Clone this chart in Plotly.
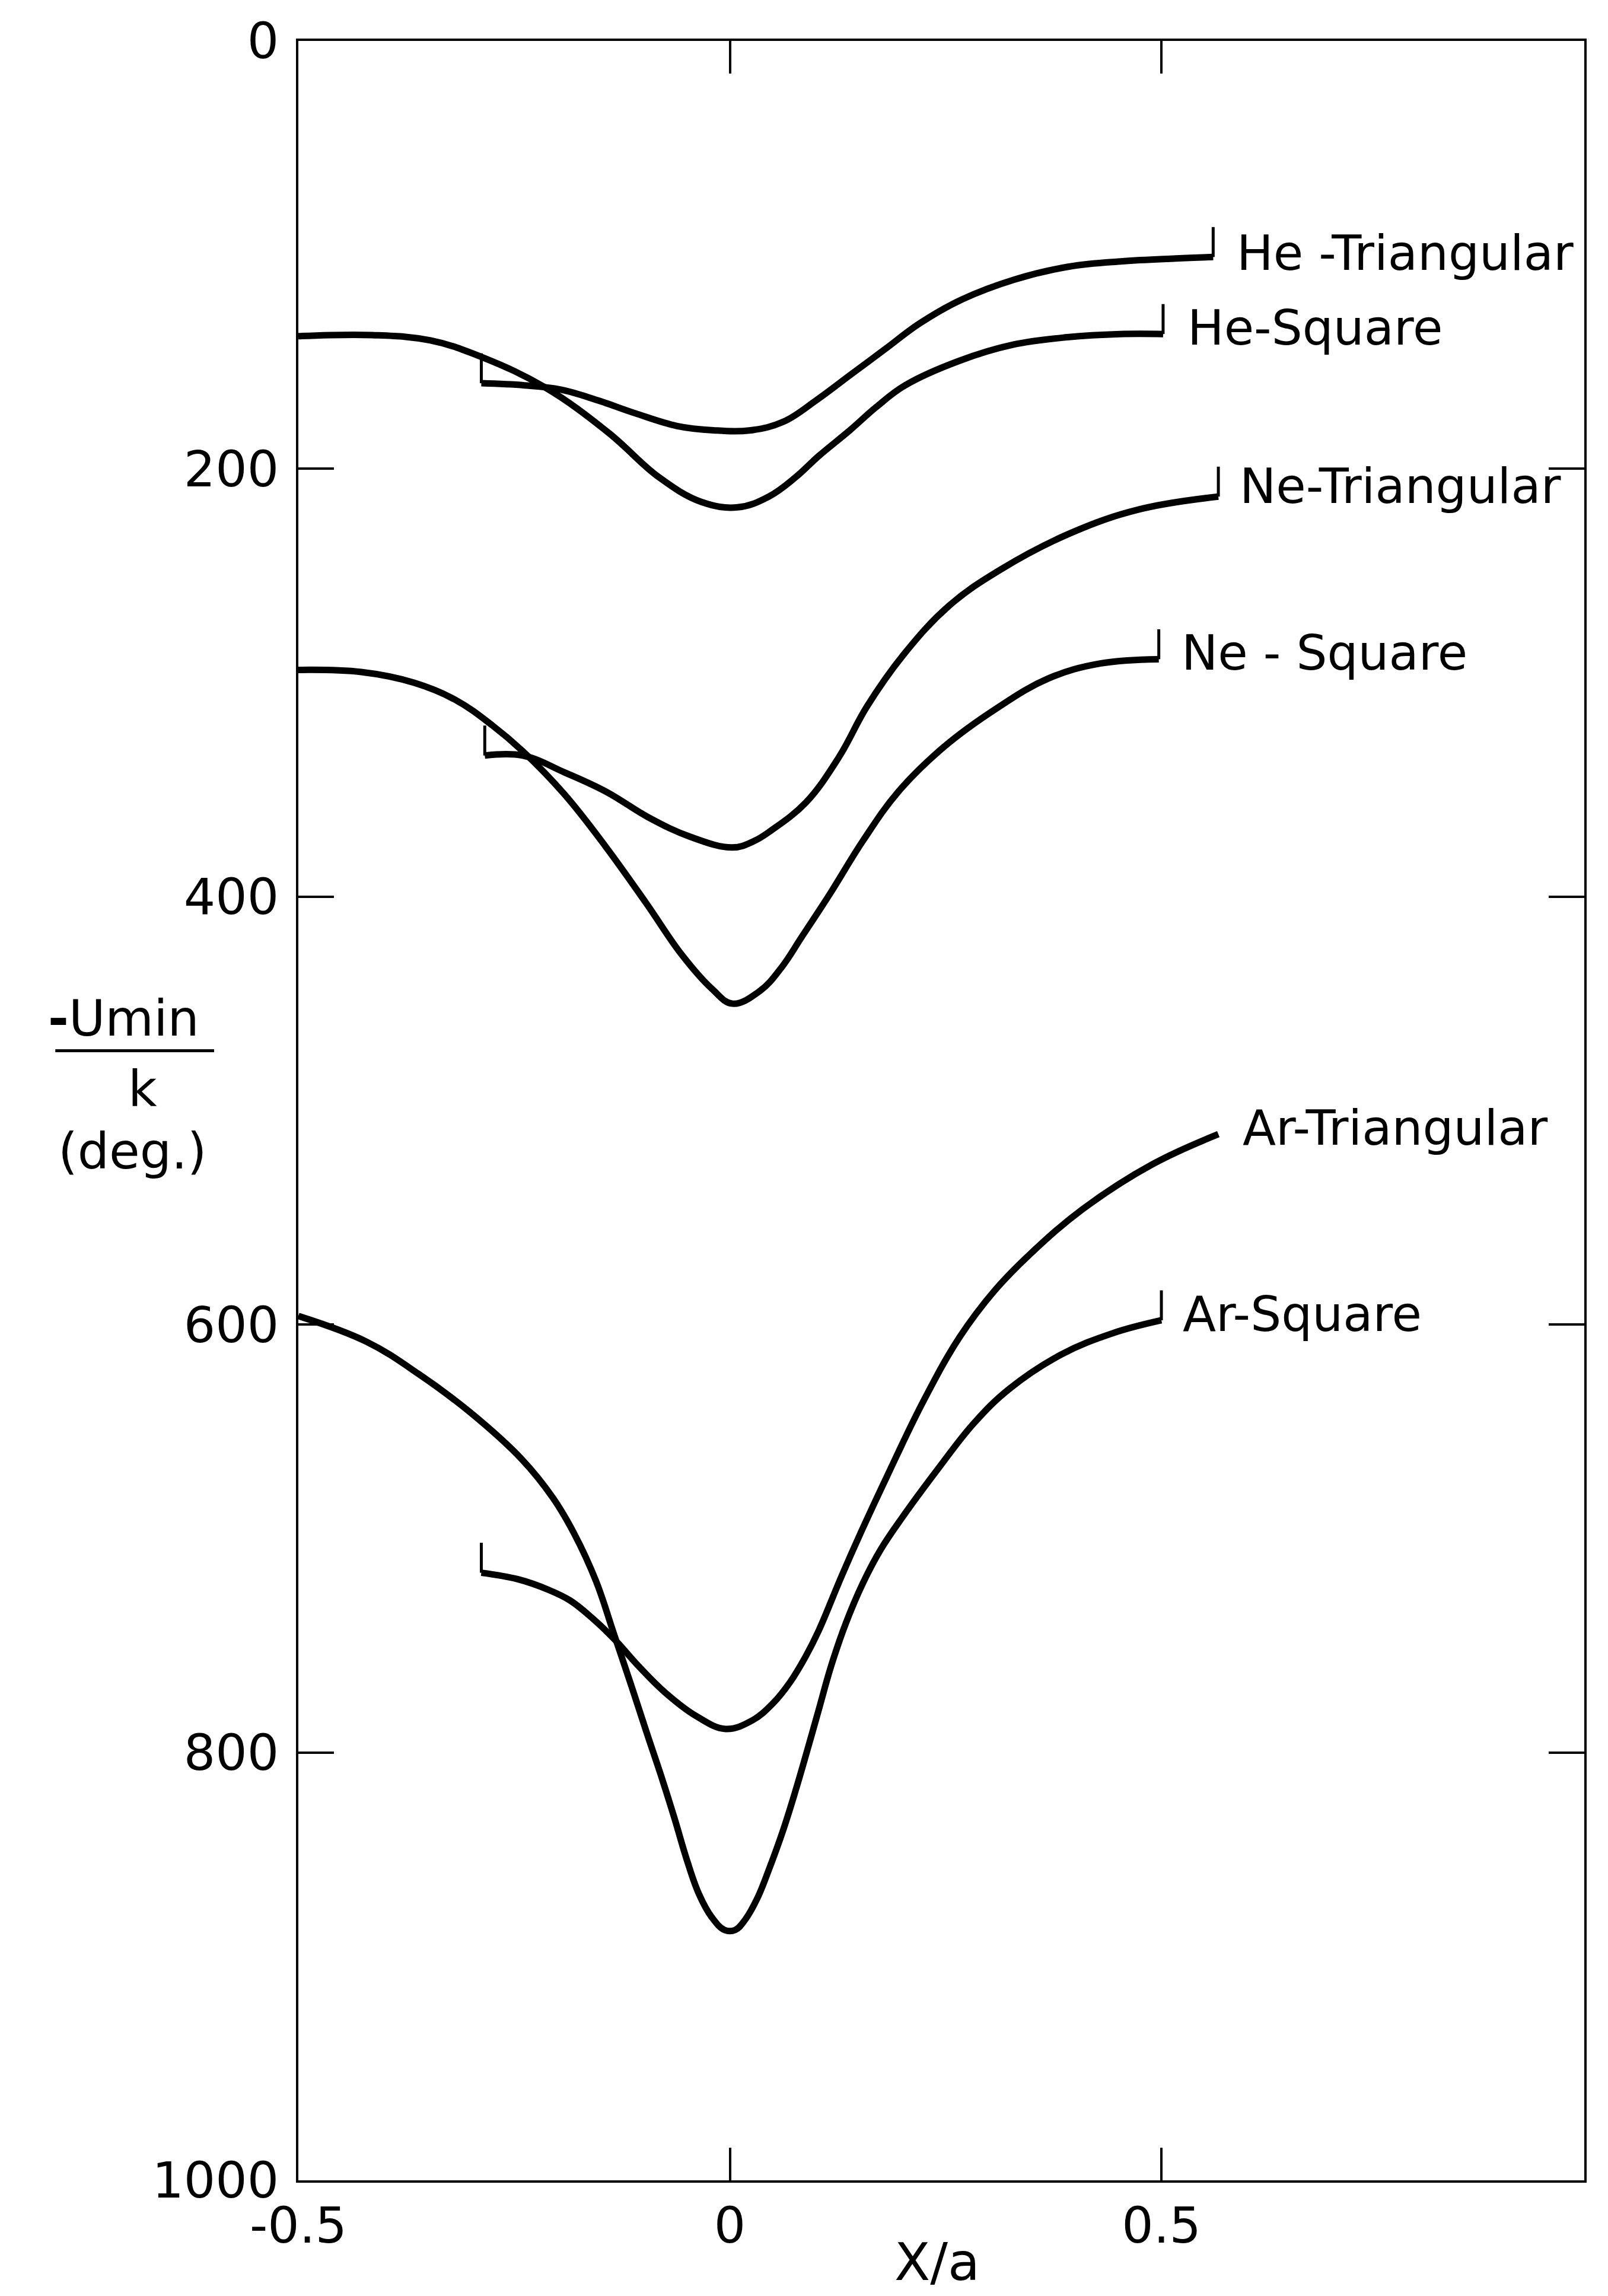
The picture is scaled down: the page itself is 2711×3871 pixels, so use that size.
import plotly.graph_objects as go

# ---- data (x = X/a, y = -Umin/k in deg.) ----
he_tri_x = [-0.288, -0.238, -0.196, -0.153, -0.110, -0.061, -0.019, 0.024, 0.062, 0.100, 0.140, 0.180, 0.220, 0.268, 0.330, 0.393, 0.455, 0.517, 0.560]
he_tri_y = [160, 161, 163, 168, 174, 180, 182, 182, 178, 168, 156, 144, 132, 121, 111.5, 105.5, 103, 101.7, 101]

he_sq_x = [-0.500, -0.414, -0.347, -0.286, -0.214, -0.141, -0.082, -0.033, 0.009, 0.045, 0.076, 0.103, 0.139, 0.170, 0.203, 0.266, 0.328, 0.391, 0.452, 0.502]
he_sq_y = [138, 137.5, 140, 148, 162, 183, 204, 215.5, 218, 213, 204, 194, 182, 171, 161, 149.5, 142, 138.5, 137, 137]

ne_tri_x = [-0.284, -0.240, -0.191, -0.143, -0.094, -0.046, 0.003, 0.028, 0.048, 0.088, 0.126, 0.159, 0.201, 0.254, 0.314, 0.395, 0.474, 0.566]
ne_tri_y = [334, 334, 342, 351, 363, 372, 377, 374, 369, 356, 335, 311, 287, 264, 247, 230, 219, 213]

ne_sq_x = [-0.500, -0.427, -0.366, -0.318, -0.275, -0.240, -0.192, -0.145, -0.097, -0.056, -0.021, 0.003, 0.035, 0.060, 0.083, 0.117, 0.154, 0.195, 0.248, 0.309, 0.369, 0.429, 0.497]
ne_sq_y = [294, 295, 300, 308, 320, 332, 352, 376, 403, 427, 443, 450, 444, 433, 419, 398, 374, 351, 330, 312, 298, 291, 289]

ar_tri_x = [-0.288, -0.246, -0.210, -0.185, -0.160, -0.134, -0.105, -0.075, -0.039, -0.005, 0.026, 0.050, 0.070, 0.088, 0.103, 0.129, 0.152, 0.182, 0.224, 0.266, 0.307, 0.348, 0.409, 0.490, 0.566]
ar_tri_y = [716, 719, 724, 729, 737, 747, 760, 772, 783, 789, 785, 777, 767, 755, 743, 718, 697, 671, 636, 606, 584, 567, 546, 525, 511]

ar_sq_x = [-0.500, -0.421, -0.361, -0.301, -0.241, -0.205, -0.180, -0.155, -0.134, -0.114, -0.097, -0.078, -0.064, -0.050, -0.036, -0.021, -0.006, 0.006, 0.018, 0.032, 0.045, 0.062, 0.076, 0.089, 0.103, 0.117, 0.134, 0.154, 0.175, 0.200, 0.242, 0.283, 0.324, 0.384, 0.444, 0.500]
ar_sq_y = [596, 608, 623, 641, 663, 681, 698, 720, 745, 769, 790, 813, 831, 850, 866, 877, 883, 883, 878, 868, 855, 836, 818, 800, 780, 760, 740, 721, 705, 690, 667, 646, 630, 614, 604, 598]

curve_names = ["He -Triangular", "He-Square", "Ne-Triangular", "Ne - Square", "Ar-Triangular", "Ar-Square"]
# which curve ends carry a small vertical end-mark (start, end)
end_marks = [(True, True), (False, True), (True, True), (False, True), (True, False), (False, True)]

x_ticks = [-0.5, 0, 0.5]
x_tick_text = ["-0.5", "0", "0.5"]
y_ticks = [0, 200, 400, 600, 800, 1000]

# label anchor positions (data coordinates)
label_x = [0.586, 0.529, 0.589, 0.522, 0.593, 0.523]
label_y = [99, 134, 208, 286, 508, 595]

series = [
    (he_tri_x, he_tri_y),
    (he_sq_x, he_sq_y),
    (ne_tri_x, ne_tri_y),
    (ne_sq_x, ne_sq_y),
    (ar_tri_x, ar_tri_y),
    (ar_sq_x, ar_sq_y),
]

MARK_LEN = 14
FONT = "DejaVu Sans"

fig = go.Figure()
for (xs, ys), name, (m_start, m_end) in zip(series, curve_names, end_marks):
    fig.add_trace(go.Scatter(
        x=xs, y=ys, mode="lines", name=name,
        line=dict(color="black", width=11, shape="spline", smoothing=1.1),
        hoverinfo="skip",
    ))
    if m_start:
        fig.add_trace(go.Scatter(
            x=[xs[0], xs[0]], y=[ys[0], ys[0] - MARK_LEN], mode="lines",
            line=dict(color="black", width=5), hoverinfo="skip"))
    if m_end:
        fig.add_trace(go.Scatter(
            x=[xs[-1], xs[-1]], y=[ys[-1], ys[-1] - MARK_LEN], mode="lines",
            line=dict(color="black", width=5), hoverinfo="skip"))

annotations = []
for name, lx, ly in zip(curve_names, label_x, label_y):
    annotations.append(dict(
        x=lx, y=ly, xref="x", yref="y", text=name, showarrow=False,
        xanchor="left", yanchor="middle",
        font=dict(family=FONT, size=82, color="black")))

# axis titles
annotations.append(dict(x=0.24, y=-0.038, xref="x", yref="paper", text="X/a", showarrow=False,
                        xanchor="center", yanchor="middle",
                        font=dict(family=FONT, size=88, color="black")))
annotations.append(dict(x=-0.136, y=457, xref="paper", yref="y", text="<b>-</b>Umin", showarrow=False,
                        xanchor="center", yanchor="middle",
                        font=dict(family=FONT, size=84, color="black")))
annotations.append(dict(x=-0.121, y=490, xref="paper", yref="y", text="k", showarrow=False,
                        xanchor="center", yanchor="middle",
                        font=dict(family=FONT, size=84, color="black")))
annotations.append(dict(x=-0.129, y=519, xref="paper", yref="y", text="(deg.)", showarrow=False,
                        xanchor="center", yanchor="middle",
                        font=dict(family=FONT, size=84, color="black")))

shapes = [dict(type="line", xref="paper", yref="y", x0=-0.189, x1=-0.0655, y0=472, y1=472,
               line=dict(color="black", width=5))]

fig.update_layout(
    width=2711, height=3871,
    margin=dict(l=495, r=48, t=57, b=203),
    paper_bgcolor="white", plot_bgcolor="white",
    showlegend=False,
    annotations=annotations,
    shapes=shapes,
    font=dict(family=FONT, color="black"),
)
fig.update_xaxes(
    range=[-0.5, 0.99], tickvals=x_ticks, ticktext=x_tick_text,
    showgrid=False, zeroline=False,
    showline=True, linecolor="black", linewidth=4, mirror="ticks",
    ticks="inside", ticklen=55, tickwidth=4, tickcolor="black",
    tickfont=dict(family=FONT, size=84, color="black"),
    ticklabelstandoff=0,
)
fig.update_yaxes(
    range=[1000, 0], tickvals=y_ticks,
    showgrid=False, zeroline=False,
    showline=True, linecolor="black", linewidth=4, mirror="ticks",
    ticks="inside", ticklen=60, tickwidth=4, tickcolor="black",
    tickfont=dict(family=FONT, size=84, color="black"),
    ticklabelstandoff=12,
)

fig.write_html("out.html")
